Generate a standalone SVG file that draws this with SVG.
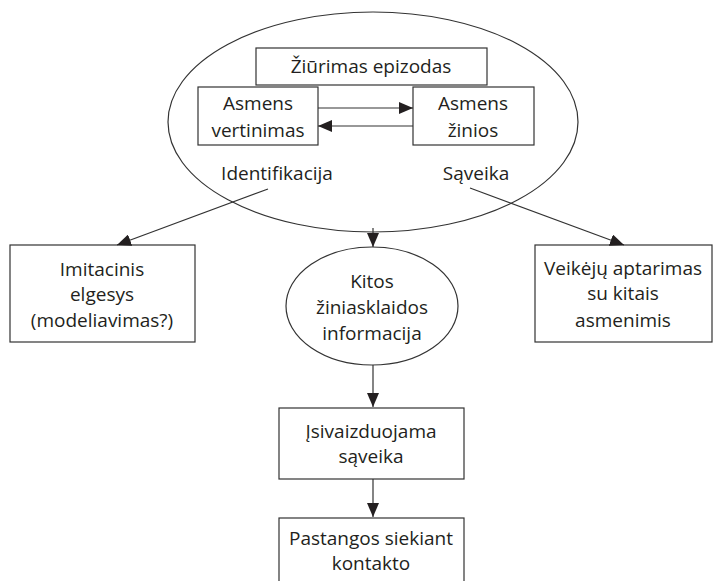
<svg xmlns="http://www.w3.org/2000/svg" width="715" height="581" viewBox="0 0 715 581">
<style>
.s{fill:#fff;stroke:#333;stroke-width:1.2}
.t{font-family:"Open Sans","Liberation Sans",sans-serif;font-size:19px;fill:#231f20;text-anchor:middle}
.c{fill:none;stroke:#333;stroke-width:1.2;marker-end:url(#a)}
</style>
<defs>
<marker id="a" markerUnits="userSpaceOnUse" markerWidth="14" markerHeight="12" refX="14" refY="6" orient="auto">
<path d="M0,0 L14,6 L0,12 Z" fill="#231f20"/>
</marker>
</defs>
<rect width="715" height="581" fill="#fff"/>
<g id="main">
<ellipse class="s" cx="373" cy="122" rx="205" ry="110"/>
<text class="t" x="277" y="180">Identifikacija</text>
<text class="t" x="476" y="180">Sąveika</text>
</g>
<g id="episode">
<rect class="s" x="256" y="48" width="231" height="37"/>
<text class="t" x="371" y="73">Žiūrimas epizodas</text>
</g>
<g id="vertinimas">
<rect class="s" x="198" y="87" width="120" height="58"/>
<text class="t" x="258" y="110">Asmens</text>
<text class="t" x="258" y="137">vertinimas</text>
</g>
<g id="zinios">
<rect class="s" x="413" y="87" width="121" height="58"/>
<text class="t" x="473" y="110">Asmens</text>
<text class="t" x="473" y="137">žinios</text>
</g>
<g id="imitacinis">
<rect class="s" x="10" y="245" width="185" height="97"/>
<text class="t" x="102" y="276">Imitacinis</text>
<text class="t" x="102" y="301">elgesys</text>
<text class="t" x="102" y="327">(modeliavimas?)</text>
</g>
<g id="kitos">
<ellipse class="s" cx="372" cy="306" rx="86" ry="59"/>
<text class="t" x="372" y="288">Kitos</text>
<text class="t" x="372" y="314">žiniasklaidos</text>
<text class="t" x="372" y="340">informacija</text>
</g>
<g id="veikeju">
<rect class="s" x="535" y="245" width="177" height="97"/>
<text class="t" x="623" y="275">Veikėjų aptarimas</text>
<text class="t" x="623" y="300">su kitais</text>
<text class="t" x="623" y="327">asmenimis</text>
</g>
<g id="isivaizduojama">
<rect class="s" x="279" y="408" width="185" height="71"/>
<text class="t" x="371" y="438">Įsivaizduojama</text>
<text class="t" x="371" y="463">sąveika</text>
</g>
<g id="pastangos">
<rect class="s" x="279" y="518" width="185" height="80"/>
<text class="t" x="371" y="545">Pastangos siekiant</text>
<text class="t" x="371" y="570">kontakto</text>
</g>
<g id="connectors">
<line class="c" x1="318" y1="108" x2="413" y2="108"/>
<line class="c" x1="413" y1="126" x2="318" y2="126"/>
<line class="c" x1="268" y1="189" x2="117" y2="245"/>
<line class="c" x1="470" y1="188" x2="624" y2="245"/>
<line class="c" x1="373" y1="228" x2="373" y2="247"/>
<line class="c" x1="373" y1="365" x2="373" y2="407"/>
<line class="c" x1="373" y1="479" x2="373" y2="517"/>
</g>
</svg>
